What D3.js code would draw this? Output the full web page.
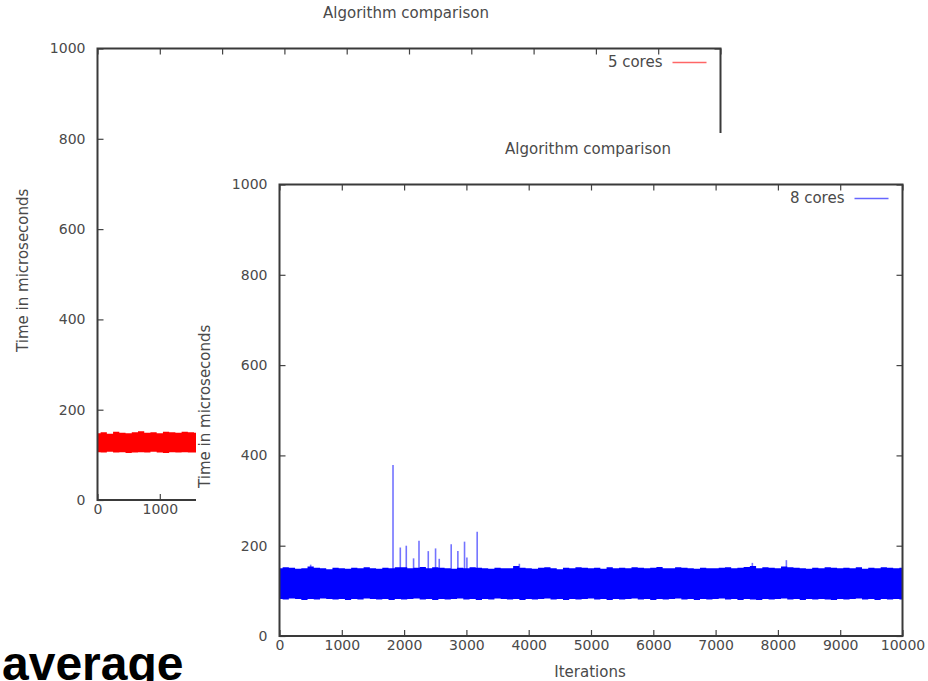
<!DOCTYPE html>
<html>
<head>
<meta charset="utf-8">
<script src="https://cdn.jsdelivr.net/npm/d3@7"></script>
<style>
  html, body { margin: 0; padding: 0; background: #fff; }
  svg { display: block; }
  text { font-family: "DejaVu Sans", sans-serif; fill: #4a4a4a; }
</style>
</head>
<body>
<svg id="chart" width="928" height="681"></svg>
<script>
// Shared axis ticks
const yTickValues = [0, 200, 400, 600, 800, 1000];
const xTickValues = [0, 1000, 2000, 3000, 4000, 5000, 6000, 7000, 8000, 9000, 10000];

// 5 cores run: envelope of the dense trace (iterations 0..1600, every 100)
const redStep = 100;
const redUpper = [148, 150, 147, 151, 149, 148, 150, 152, 149, 150, 148, 151, 150, 149, 151, 150, 149];
const redLower = [106, 105, 107, 105, 106, 104, 105, 106, 105, 107, 105, 104, 106, 105, 106, 105, 105];

// 8 cores run: envelope of the dense trace (iterations 0..10000, every 100)
const blueStep = 100;
const blueUpper = [
  150, 152, 151, 149, 150, 154, 151, 150, 148, 151,
  150, 149, 151, 150, 152, 150, 149, 151, 150, 152,
  152, 150, 151, 153, 150, 152, 151, 150, 149, 151,
  150, 152, 151, 150, 149, 151, 150, 150, 155, 151,
  150, 149, 151, 152, 150, 148, 151, 150, 152, 151,
  150, 151, 149, 152, 150, 151, 150, 152, 151, 150,
  151, 153, 150, 150, 152, 151, 150, 149, 151, 150,
  150, 151, 152, 150, 151, 153, 155, 150, 152, 151,
  150, 154, 152, 151, 150, 149, 151, 150, 152, 151,
  150, 151, 150, 152, 149, 151, 150, 152, 151, 150,
  151
];
const blueLower = [
  82, 81, 83, 82, 80, 82, 81, 83, 82, 81,
  82, 80, 82, 81, 83, 82, 81, 82, 80, 82,
  81, 82, 83, 81, 82, 80, 82, 81, 82, 83,
  81, 82, 80, 82, 81, 83, 82, 81, 82, 80,
  82, 81, 82, 83, 81, 82, 80, 82, 81, 82,
  83, 81, 82, 80, 82, 81, 82, 83, 81, 82,
  80, 82, 81, 82, 83, 81, 82, 80, 82, 81,
  82, 83, 81, 82, 80, 82, 81, 80, 82, 81,
  82, 83, 81, 82, 80, 82, 81, 82, 81, 80,
  82, 81, 82, 83, 81, 82, 80, 82, 81, 82,
  81
];
// Isolated outliers rising above the band: [iteration, microseconds]
const blueSpikeIter = [500, 1822, 1939, 2035, 2152, 2239, 2388, 2505, 2564, 2756, 2863, 2970, 3008, 3173, 3850, 7590, 8136];
const blueSpikeTime = [158, 379, 196, 200, 172, 211, 188, 194, 171, 203, 188, 209, 174, 231, 160, 162, 168];

const svg = d3.select("#chart");

function drawPanel(opt) {
  const g = svg.append("g");
  const x = d3.scaleLinear().domain([0, 10000]).range([opt.left, opt.right]);
  const y = d3.scaleLinear().domain([0, 1000]).range([opt.bottom, opt.top]);

  // dense trace drawn as its min/max envelope
  const band = opt.upper.map((u, i) => ({ it: i * opt.step, hi: u, lo: opt.lower[i] }));
  g.append("path")
    .datum(band)
    .attr("fill", opt.color)
    .attr("stroke", "none")
    .attr("d", d3.area().x(d => x(d.it)).y0(d => y(d.lo)).y1(d => y(d.hi)).curve(d3.curveStep));

  if (opt.spikeIter) {
    g.selectAll("line.spike")
      .data(opt.spikeIter.map((it, i) => ({ it, v: opt.spikeTime[i] })))
      .join("line")
      .attr("class", "spike")
      .attr("x1", d => x(d.it)).attr("x2", d => x(d.it))
      .attr("y1", y(140)).attr("y2", d => y(d.v))
      .attr("stroke", opt.color)
      .attr("stroke-opacity", 0.55)
      .attr("stroke-width", 1.6);
  }

  // axes with inward ticks on all four sides
  const tickColor = "#444";
  const fmt = d3.format("d");
  const left = g.append("g").attr("transform", `translate(${opt.left},0)`)
    .call(d3.axisLeft(y).tickValues(yTickValues).tickFormat(fmt).tickSizeInner(-6).tickSizeOuter(0).tickPadding(12));
  const bottom = g.append("g").attr("transform", `translate(0,${opt.bottom})`)
    .call(d3.axisBottom(x).tickValues(xTickValues).tickFormat(fmt).tickSizeInner(-6).tickSizeOuter(0).tickPadding(4));
  const top = g.append("g").attr("transform", `translate(0,${opt.top})`)
    .call(d3.axisTop(x).tickValues(xTickValues).tickSizeInner(-6).tickSizeOuter(0).tickFormat(""));
  const right = g.append("g").attr("transform", `translate(${opt.right},0)`)
    .call(d3.axisRight(y).tickValues(yTickValues).tickSizeInner(-6).tickSizeOuter(0).tickFormat(""));
  [left, bottom, top, right].forEach(a => {
    a.select(".domain").remove();
    a.selectAll(".tick line").attr("stroke", tickColor).attr("stroke-width", 1.2);
    a.selectAll(".tick text")
      .style("font-family", '"DejaVu Sans", sans-serif')
      .style("font-size", "14px")
      .attr("fill", "#4a4a4a");
  });

  // plot border
  g.append("rect")
    .attr("x", opt.left).attr("y", opt.top)
    .attr("width", opt.right - opt.left).attr("height", opt.bottom - opt.top)
    .attr("fill", "none").attr("stroke", "#3a3a3a").attr("stroke-width", 2);

  // title
  g.append("text")
    .attr("x", (opt.left + opt.right) / 2 - 3).attr("y", opt.top - 31)
    .attr("text-anchor", "middle").style("font-size", "15px")
    .text("Algorithm comparison");

  // y axis label
  g.append("text")
    .attr("transform", `translate(${opt.left - 70},${(opt.top + opt.bottom) / 2 - 4}) rotate(-90)`)
    .attr("text-anchor", "middle").style("font-size", "15px")
    .text("Time in microseconds");

  // x axis label
  g.append("text")
    .attr("x", (opt.left + opt.right) / 2 - 1).attr("y", opt.bottom + 41)
    .attr("text-anchor", "middle").style("font-size", "15px")
    .text("Iterations");

  // legend
  g.append("text")
    .attr("x", opt.right - 58).attr("y", opt.top + 18)
    .attr("text-anchor", "end").style("font-size", "15px")
    .text(opt.label);
  g.append("line")
    .attr("x1", opt.right - 48).attr("x2", opt.right - 14)
    .attr("y1", opt.top + 14).attr("y2", opt.top + 14)
    .attr("stroke", opt.color).attr("stroke-opacity", 0.6).attr("stroke-width", 1.3);
}

// background plot: 5 cores
drawPanel({
  left: 97.5, right: 720.5, top: 48.5, bottom: 500,
  step: redStep, upper: redUpper, lower: redLower,
  color: "#ff0000", label: "5 cores"
});

// foreground plot overlapping the first: 8 cores
svg.append("rect")
  .attr("x", 196).attr("y", 133).attr("width", 928 - 196).attr("height", 681 - 133)
  .attr("fill", "#fff");
drawPanel({
  left: 279.5, right: 902.5, top: 184.5, bottom: 636,
  step: blueStep, upper: blueUpper, lower: blueLower,
  spikeIter: blueSpikeIter, spikeTime: blueSpikeTime,
  color: "#0000ff", label: "8 cores"
});

// caption
svg.append("text")
  .attr("x", 2).attr("y", 680)
  .style("font-family", '"Liberation Sans", Arial, sans-serif')
  .style("font-weight", "bold").style("font-size", "48px")
  .style("fill", "#000")
  .text("average");
</script>
</body>
</html>
